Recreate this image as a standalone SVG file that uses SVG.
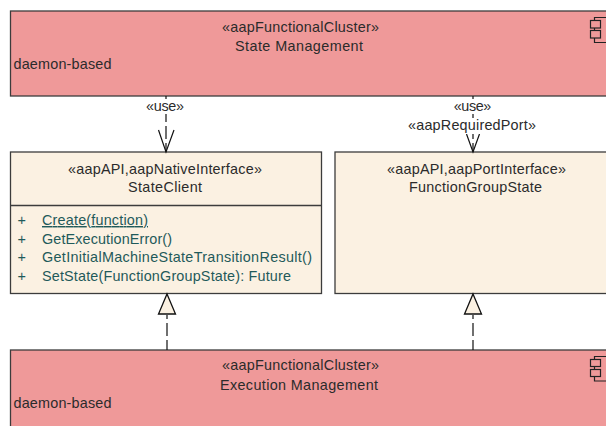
<svg xmlns="http://www.w3.org/2000/svg" width="606" height="426" viewBox="0 0 606 426">
<style>
text{font-family:"Liberation Sans",Arial,sans-serif;font-size:14.4px;fill:#2b2b2b}
.c{text-anchor:middle}
.red{fill:#ef9999;stroke:#3c3c3c;stroke-width:1.3}
.cream{fill:#fbf1e2;stroke:#3c3c3c;stroke-width:1.3}
text.m{fill:#1f5a5a}
.dash{fill:none;stroke:#111;stroke-width:1.2;stroke-dasharray:13 4}
.head{fill:none;stroke:#111;stroke-width:1.2}
.tri{fill:#fbf1e2;stroke:#111;stroke-width:1.3}
.ic{fill:#ef9999;stroke:#222;stroke-width:1.2}
</style>
<g id="state-management">
<rect class="red" x="10.500" y="11" width="600" height="85"/>
<text class="c" x="300.500" y="32" textLength="157">«aapFunctionalCluster»</text>
<text class="c" x="299" y="51" textLength="128">State Management</text>
<text x="13.500" y="69" textLength="98">daemon-based</text>
<path class="ic" d="M594.500 17.500H610V42.500H594.500Z"/><rect class="ic" x="590.500" y="20.500" width="10" height="7.500"/><rect class="ic" x="590.500" y="30.500" width="10" height="7.500"/>
</g>
<g id="state-client">
<rect class="cream" x="10.500" y="152" width="311" height="141.500"/>
<line class="cream" x1="10.500" y1="205.500" x2="321.500" y2="205.500"/>
<text class="c" x="165" y="174" textLength="194">«aapAPI,aapNativeInterface»</text>
<text class="c" x="165" y="192" textLength="74">StateClient</text>
<text class="m" x="17.500" y="225">+</text><text class="m" x="42" y="225" textLength="106" text-decoration="underline">Create(function)</text>
<text class="m" x="17.500" y="244">+</text><text class="m" x="42" y="244" textLength="130">GetExecutionError()</text>
<text class="m" x="17.500" y="262">+</text><text class="m" x="42" y="262" textLength="270">GetInitialMachineStateTransitionResult()</text>
<text class="m" x="17.500" y="281">+</text><text class="m" x="42" y="281" textLength="249">SetState(FunctionGroupState): Future</text>
</g>
<g id="function-group-state">
<rect class="cream" x="335" y="152" width="276" height="141.500"/>
<text class="c" x="476.500" y="174" textLength="179">«aapAPI,aapPortInterface»</text>
<text class="c" x="475.500" y="192" textLength="133">FunctionGroupState</text>
</g>
<g id="execution-management">
<rect class="red" x="10.500" y="350" width="600" height="90"/>
<text class="c" x="300.500" y="370" textLength="157">«aapFunctionalCluster»</text>
<text class="c" x="299" y="390" textLength="158">Execution Management</text>
<text x="13.500" y="408" textLength="98">daemon-based</text>
<path class="ic" d="M594.500 356.500H610V381H594.500Z"/><rect class="ic" x="590.500" y="359.500" width="10" height="7"/><rect class="ic" x="590.500" y="369.500" width="10" height="7"/>
</g>
<g id="connectors">
<path class="dash" stroke-dashoffset="4" d="M166 96V152"/><path class="head" d="M158.500 130L166 152L174 130"/>
<path class="dash" stroke-dashoffset="4" d="M473 96V152"/><path class="head" d="M466.500 134L473 152L479.500 134"/>
<path class="dash" stroke-dashoffset="9" d="M167 315V350"/><path class="tri" d="M167 294L175.500 314H158.500Z"/>
<path class="dash" stroke-dashoffset="9" d="M473 315V350"/><path class="tri" d="M473 294L481.500 314H464.500Z"/>
<rect x="145" y="99" width="40" height="15" fill="#fff"/>
<rect x="452" y="99" width="40" height="15" fill="#fff"/>
<rect x="407" y="118" width="130" height="16" fill="#fff"/>
<text class="c" x="165" y="111" textLength="38">«use»</text>
<text class="c" x="472.500" y="111" textLength="37.500">«use»</text>
<text class="c" x="472" y="130" textLength="128">«aapRequiredPort»</text>
</g>
</svg>
